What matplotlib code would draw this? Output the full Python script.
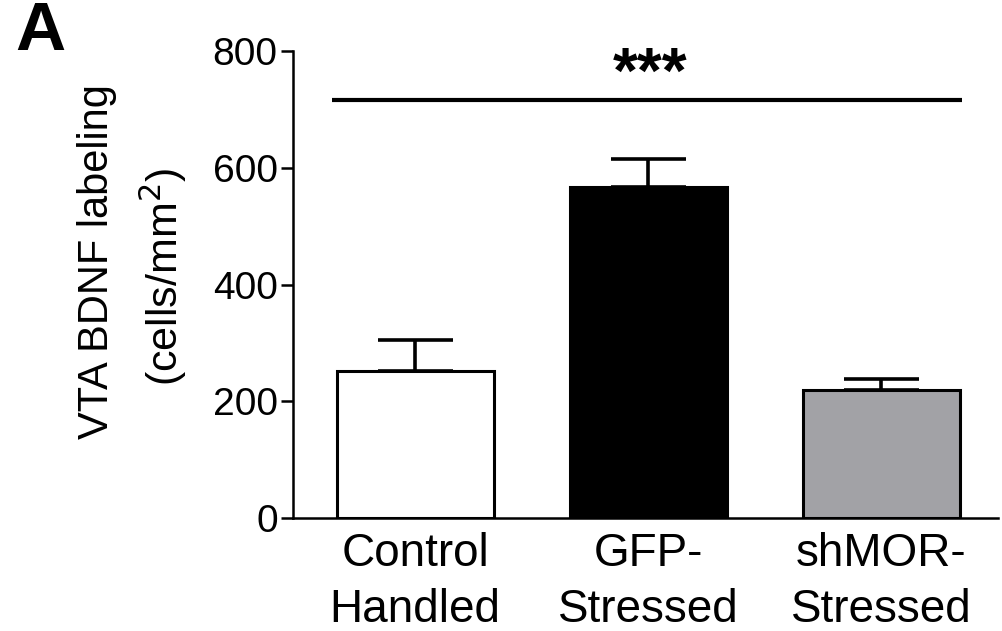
import matplotlib.pyplot as plt
import numpy as np

plt.rcParams['font.family'] = ['Liberation Sans', 'DejaVu Sans']

groups = ["Control\nHandled", "GFP-\nStressed", "shMOR-\nStressed"]
means = [252, 567, 220]
sem = [53, 49, 19]
colors = ["white", "black", "#a2a2a6"]
yticks = [0, 200, 400, 600, 800]
sig_level = 717
sig_text = "***"

fig = plt.figure(figsize=(10.02, 6.31), dpi=100)
ax = fig.add_axes([0.2924, 0.179, 0.7036, 0.740])

x = np.arange(len(groups))
ax.bar(x, means, width=0.674, color=colors, edgecolor="black", linewidth=2.2, zorder=2)
ax.errorbar(x, means, yerr=[np.zeros(len(sem)), sem], fmt="none", ecolor="black",
            elinewidth=2.6, capsize=27, capthick=2.6, zorder=1)

# significance bar across all groups
ax.plot([-0.356, 2.348], [sig_level, sig_level], color="black", lw=3.0, solid_capstyle="butt")
ax.text(1.01, 728, sig_text, ha="center", va="baseline", fontsize=46, fontweight="bold")

ax.set_xlim(-0.524, 2.502)
ax.set_ylim(0, 800)
ax.set_yticks(yticks)
ax.set_xticks(x)
ax.set_xticklabels(groups, fontsize=33, linespacing=1.35)
ax.tick_params(axis="x", length=0, pad=10)
ax.tick_params(axis="y", labelsize=28, width=1.8, length=9, pad=2)
for s in ["top", "right"]:
    ax.spines[s].set_visible(False)
for s in ["left", "bottom"]:
    ax.spines[s].set_linewidth(1.8)

fig.text(0.097, 0.585, "VTA BDNF labeling", rotation=90, ha="center", va="center", fontsize=30)
fig.text(0.163, 0.562, "(cells/mm$^2$)", rotation=90, ha="center", va="center", fontsize=31)
fig.text(0.015, 1.0, "A", ha="left", va="top", fontsize=50, fontweight="bold")

fig.savefig("out.png", dpi=100)
